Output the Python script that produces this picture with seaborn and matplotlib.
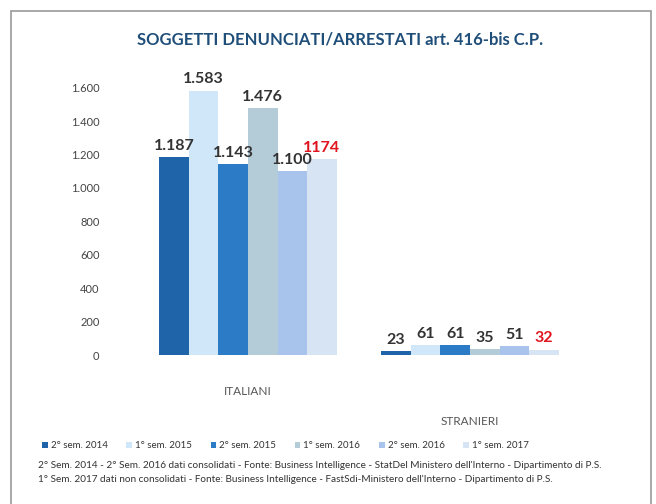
import pandas as pd
import matplotlib.pyplot as plt
import matplotlib.transforms as mtransforms
from matplotlib.patches import Rectangle
import seaborn as sns

# Data
gruppi = ['ITALIANI', 'STRANIERI']
semestri = ['2° sem. 2014', '1° sem. 2015', '2° sem. 2015',
            '1° sem. 2016', '2° sem. 2016', '1° sem. 2017']
italiani = [1187, 1583, 1143, 1476, 1100, 1174]
stranieri = [23, 61, 61, 35, 51, 32]
etichette_ita = ['1.187', '1.583', '1.143', '1.476', '1.100', '1174']
etichette_str = ['23', '61', '61', '35', '51', '32']
yticks = [0, 200, 400, 600, 800, 1000, 1200, 1400, 1600]
ytick_labels = ['0', '200', '400', '600', '800', '1.000', '1.200', '1.400', '1.600']
colori = ['#1f63a8', '#cfe7f8', '#2b7bc6', '#b4cbd8', '#a8c4ec', '#d6e4f3']

df = pd.DataFrame({
    'gruppo': [g for g in gruppi for _ in semestri],
    'semestre': semestri * 2,
    'valore': italiani + stranieri,
})

sns.set_theme(style='white')
plt.rcParams['font.family'] = ['Lato', 'DejaVu Sans']

fig = plt.figure(figsize=(6.56, 5.04), dpi=100)
ax = fig.add_axes([137 / 656, 1 - 355 / 504, 444 / 656, 284 / 504])

sns.barplot(data=df, x='gruppo', y='valore', hue='semestre', palette=colori,
            hue_order=semestri, order=gruppi, width=0.8, ax=ax, saturation=1,
            linewidth=0)

ax.set_ylim(0, 1700)
ax.set_xlim(-0.5, 1.5)
ax.set_yticks(yticks)
ax.set_yticklabels(ytick_labels, fontsize=8, color='#444444')
ax.tick_params(axis='y', length=0, pad=27)
ax.tick_params(axis='x', length=0, pad=22, labelsize=8.5, labelcolor='#555555')
ax.set_xlabel('')
ax.set_ylabel('')
sns.despine(ax=ax, left=True, bottom=True)
ax.grid(False)

# STRANIERI label sits lower in the original perspective view
lbl = ax.get_xticklabels()[1]
lbl.set_transform(lbl.get_transform() + mtransforms.ScaledTranslation(0, -0.3, fig.dpi_scale_trans))

for i, cont in enumerate(ax.containers):
    col = '#e0141e' if i == len(ax.containers) - 1 else '#333333'
    ax.bar_label(cont, labels=[etichette_ita[i], etichette_str[i]], padding=3,
                 fontsize=11.5, fontweight='bold', color=col)

handles, labels = ax.get_legend_handles_labels()
ax.get_legend().remove()
fig.legend(handles, labels, loc='center', bbox_to_anchor=(0.435, 1 - 446 / 504),
           ncol=6, frameon=False, fontsize=7, handlelength=0.6, handleheight=0.6,
           handletextpad=0.3, columnspacing=1.9, labelcolor='#333333')

fig.text(0.518, 1 - 40 / 504, 'SOGGETTI DENUNCIATI/ARRESTATI art. 416-bis C.P.',
         ha='center', va='center', fontsize=12, fontweight='bold', color='#1f4e79')

fig.text(38 / 656, 1 - 466 / 504,
         "2° Sem. 2014 - 2° Sem. 2016 dati consolidati - Fonte: Business Intelligence - StatDel Ministero dell'Interno - Dipartimento di P.S.",
         ha='left', va='center', fontsize=7.2, color='#333333')
fig.text(38 / 656, 1 - 479 / 504,
         "1° Sem. 2017 dati non consolidati - Fonte: Business Intelligence - FastSdi-Ministero dell'Interno - Dipartimento di P.S.",
         ha='left', va='center', fontsize=7.2, color='#333333')

# outer frame
fig.patches.append(Rectangle((11 / 656, -0.01), 640 / 656, 1 - 11 / 504 + 0.01,
                             transform=fig.transFigure, fill=False,
                             edgecolor='#999999', linewidth=1.2))

fig.savefig('out.png', dpi=100)
